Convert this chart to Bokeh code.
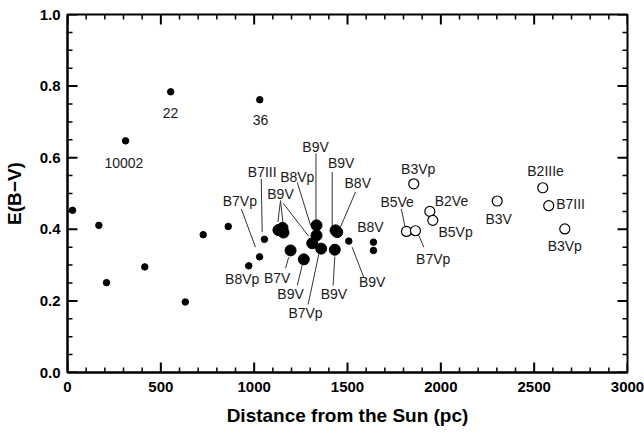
import math
from bokeh.plotting import figure
from bokeh.models import BasicTicker, ColumnDataSource, PrintfTickFormatter
from bokeh.core.properties import value
from bokeh.embed import file_html
from bokeh.resources import INLINE

# ---------------- data ----------------
# small filled dots (distance pc, E(B-V))
small_x = [27, 168, 209, 414, 631, 727, 861, 971, 1029, 1055, 311, 553, 1030,
           1507, 1639, 1639]
small_y = [0.453, 0.411, 0.251, 0.295, 0.197, 0.385, 0.408, 0.298, 0.323, 0.372,
           0.647, 0.784, 0.762, 0.367, 0.364, 0.341]

# large filled dots
big_x = [1130, 1152, 1157, 1195, 1266, 1311, 1334, 1334, 1359, 1436, 1445, 1432]
big_y = [0.398, 0.404, 0.391, 0.341, 0.316, 0.361, 0.411, 0.383, 0.346, 0.397,
         0.392, 0.343]

# open circles
open_x = [1855, 1941, 1957, 1816, 1864, 2302, 2546, 2578, 2664]
open_y = [0.527, 0.450, 0.425, 0.394, 0.396, 0.479, 0.516, 0.466, 0.401]

# annotations
lab_text = ["10002", "22", "36", "B9V", "B9V", "B8V", "B8Vp", "B7III", "B9V",
            "B7Vp", "B8Vp", "B7V", "B9V", "B7Vp", "B9V", "B9V", "B8V",
            "B3Vp", "B5Ve", "B2Ve", "B5Vp", "B7Vp", "B3V", "B2IIIe", "B7III", "B3Vp"]
lab_x = [302, 552, 1034, 1329, 1466, 1555, 1231, 1043, 1141,
         923, 936, 1123, 1195, 1275, 1427, 1632, 1623,
         1879, 1766, 2057, 2079, 1959, 2310, 2561, 2695, 2664]
lab_y = [0.585, 0.724, 0.704, 0.631, 0.585, 0.529, 0.547, 0.560, 0.499,
         0.480, 0.262, 0.265, 0.218, 0.166, 0.218, 0.252, 0.406,
         0.569, 0.476, 0.480, 0.392, 0.318, 0.429, 0.562, 0.471, 0.352]

# leader lines
line_x0 = [1331, 1418, 1543, 1231, 1038, 931, 1141, 1141, 1155, 1168, 1231, 1289,
           1423, 1587, 1788, 1909]
line_y0 = [0.612, 0.560, 0.504, 0.531, 0.541, 0.457, 0.480, 0.480, 0.473, 0.291,
           0.243, 0.190, 0.243, 0.266, 0.457, 0.350]
line_x1 = [1331, 1418, 1462, 1302, 1043, 1007, 1127, 1154, 1293, 1185, 1257, 1346,
           1432, 1525, 1811, 1882]
line_y1 = [0.427, 0.408, 0.406, 0.411, 0.392, 0.350, 0.420, 0.420, 0.380, 0.322,
           0.299, 0.330, 0.324, 0.350, 0.401, 0.383]

x_label = "Distance from the Sun (pc)"
y_label = "E(B\u2212V)"

X_MIN, X_MAX = 0.0, 3000.0
Y_MIN, Y_MAX = 0.0, 1.0

# ---------------- figure ----------------
W, H = 644, 435
BL, BR, BT, BB = 67, 17, 14, 63
p = figure(width=W, height=H, x_range=(X_MIN, X_MAX), y_range=(Y_MIN, Y_MAX),
           output_backend="svg", toolbar_location=None,
           min_border_left=BL, min_border_right=BR, min_border_top=BT,
           min_border_bottom=BB)
p.xgrid.visible = False
p.ygrid.visible = False
p.outline_line_color = "black"
p.outline_line_width = 2

FONT = "Liberation Sans"

xa = p.xaxis[0]
ya = p.yaxis[0]
ya.ticker = BasicTicker(num_minor_ticks=4)
ya.formatter = PrintfTickFormatter(format="%.1f")
for ax in (xa, ya):
    ax.axis_line_color = "black"
    ax.axis_line_width = 2
    ax.major_tick_in = 0
    ax.major_tick_out = 0
    ax.minor_tick_in = 0
    ax.minor_tick_out = 0
    ax.major_label_text_font = FONT
    ax.major_label_text_font_style = "bold"
    ax.major_label_text_font_size = "15px"
    ax.major_label_text_color = "black"
    ax.axis_label_text_font = FONT
    ax.axis_label_text_font_style = "bold"
    ax.axis_label_text_font_size = "19px"
    ax.axis_label_text_color = "black"

xa.axis_label = x_label
xa.major_label_standoff = 9
xa.axis_label_standoff = 10
ya.axis_label = y_label
ya.major_label_standoff = 7
ya.axis_label_standoff = 12

# inward ticks on all four sides, drawn as dash markers (px -> data units)
fw = W - BL - BR
fh = H - BT - BB
px_x = (X_MAX - X_MIN) / fw
px_y = (Y_MAX - Y_MIN) / fh
MAJ, MIN_ = 10, 5
xmaj = [float(v) for v in range(0, 3001, 500)]
xmin = [float(v) for v in range(100, 3000, 100) if v % 500 != 0]
ymaj = [round(0.2 * i, 3) for i in range(6)]
ymin = [round(0.05 * i, 3) for i in range(1, 20) if i % 4 != 0]

for ticks, ln, w in ((xmaj, MAJ, 2), (xmin, MIN_, 1.5)):
    n = len(ticks)
    p.scatter(ticks, [Y_MIN + ln / 2 * px_y] * n, marker="dash", size=ln,
              angle=math.pi / 2, line_color="black", line_width=w)
    p.scatter(ticks, [Y_MAX - ln / 2 * px_y] * n, marker="dash", size=ln,
              angle=math.pi / 2, line_color="black", line_width=w)
for ticks, ln, w in ((ymaj, MAJ, 2), (ymin, MIN_, 1.5)):
    n = len(ticks)
    p.scatter([X_MIN + ln / 2 * px_x] * n, ticks, marker="dash", size=ln,
              line_color="black", line_width=w)
    p.scatter([X_MAX - ln / 2 * px_x] * n, ticks, marker="dash", size=ln,
              line_color="black", line_width=w)

# leader lines
p.segment(x0=line_x0, y0=line_y0, x1=line_x1, y1=line_y1,
          line_color="#333333", line_width=1)

# markers
p.scatter(small_x, small_y, size=6.5, color="black")
p.scatter(big_x, big_y, size=11, color="black")
p.scatter(open_x, open_y, size=10, fill_color="white", line_color="black",
          line_width=1.2)

# labels
src = ColumnDataSource(dict(x=lab_x, y=lab_y, t=lab_text))
p.text(x="x", y="y", text="t", source=src, text_font=value(FONT),
       text_font_size="14px", text_align="center", text_baseline="middle",
       text_color="#1a1a1a")

open("out.html", "w").write(file_html(p, INLINE))
